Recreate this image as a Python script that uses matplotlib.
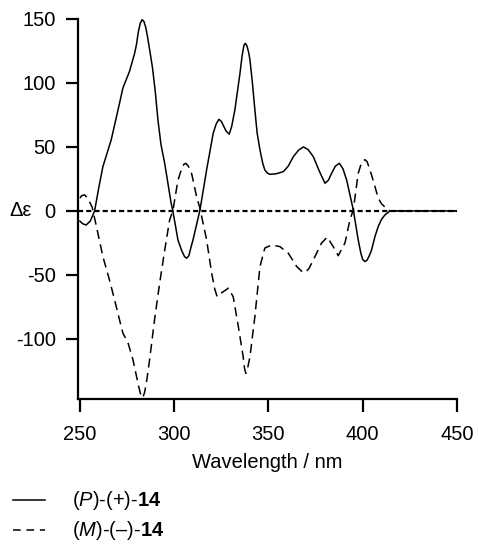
import matplotlib
matplotlib.use("Agg")
import matplotlib.pyplot as plt
from matplotlib.lines import Line2D

plt.rcParams['font.family'] = ['Liberation Sans', 'DejaVu Sans']
plt.rcParams['mathtext.fontset'] = 'custom'
plt.rcParams['mathtext.rm'] = 'Liberation Sans'
plt.rcParams['mathtext.it'] = 'Liberation Sans:italic'
plt.rcParams['mathtext.bf'] = 'Liberation Sans:bold'

# (P)-(+)-14, solid
wl_p = [250, 251.5, 253.3, 255.5, 257.8, 260, 262.2, 266.6, 271, 272.8, 276.3, 279,
        280, 281, 282, 283, 284, 285, 286, 287, 288.5, 290, 291.4, 293, 295, 298.4,
        299.3, 302, 304, 305.5, 306.6, 307.8, 309, 310, 313.7, 317.2, 320.7, 322.3,
        323.7, 325, 326, 327.5, 329.2, 330.5, 332.2, 334.9, 336, 337, 337.8, 338.6,
        339.5, 340.2, 341.5, 342.8, 344, 345.5, 347, 348.1, 349.5, 350.8, 354, 357.9,
        360.5, 363.2, 366, 368.5, 371, 373.8, 377, 380, 381.8, 383.5, 385.5, 387.6,
        389.5, 391.5, 395, 397.6, 399, 400, 401.2, 402.3, 403.5, 404.7, 406.5, 408.2,
        410, 411.8, 414.5, 420, 430, 440, 450]
de_p = [-8, -10, -11, -8, 0, 18, 34.6, 55.5, 84, 96, 109, 123,
        130, 140, 146.5, 149.5, 148, 143, 135, 126, 112, 93, 71, 52, 37, 6,
        0, -22.6, -31, -35.7, -37, -35, -28, -22.6, 0.8, 32, 60.7, 68,
        71.6, 70, 67, 62.5, 60, 66, 79, 107.5, 121, 129.5, 131, 129,
        124, 118, 100, 79, 61, 47.7, 37, 32, 29.5, 28.6, 29, 30.7,
        35, 42.4, 47.5, 50, 48, 42.4, 31, 21.6, 24, 29.4, 35, 37.2,
        33, 24, 0.8, -22.6, -33, -38, -39.6, -38.5, -35, -30.5, -20, -12.3,
        -6.5, -3.1, 0, 0, 0, 0, 0]

# (M)-(-)-14, dashed
wl_m = [250, 251, 252.6, 254.5, 256.5, 258.6, 262.2, 265.7, 268.4, 271, 272.8, 275.5,
        278.1, 280.8, 281.8, 282.5, 283.3, 284.3, 285.5, 287, 289.6, 292.3, 295, 297.6,
        299.3, 302, 304, 305.2, 306.2, 307.5, 309.3, 311.9, 313.7, 314.6, 317.2, 319.9,
        321.5, 322.8, 325.2, 328.7, 331.3, 334, 336.6, 337.3, 338, 338.8, 340.2, 342.8,
        345.5, 348.1, 351.7, 356.1, 360.5, 365, 367.5, 369.4, 371.5, 373.8, 378.2, 381.2,
        384.4, 387, 390.6, 393.2, 395, 397.6, 399, 400, 401.2, 402.3, 403.5, 404.7,
        406.5, 408.2, 410, 411.8, 414.5, 420, 430, 440, 450]
de_m = [10, 12, 12.5, 9, 3, -11, -35.7, -54, -69.5, -85, -95.5, -103,
        -116, -134.6, -141, -145, -146, -142, -132, -116, -85, -56.5, -30.5, -7,
        0, 24, 33, 36.5, 37.2, 35, 29, 11, 2, -4.4, -22.6, -48.7,
        -61, -67, -64, -60.4, -67, -90, -114, -123, -127, -124, -114, -82.6,
        -43.5, -29, -26.6, -27.9, -33, -43.5, -47, -48.2, -45, -38.3, -25, -20.5,
        -28, -35, -25, -7, 0.8, 29.4, 36, 39, 40, 38.5, 33.5, 28,
        19, 10, 5.5, 3, 0, 0, 0, 0, 0]

fig = plt.figure(figsize=(4.78, 5.46), dpi=100)
ax = fig.add_axes([78/478, 147/546, 379/478, 380/546])

ax.axhline(0, color='black', lw=1.6, linestyle=(0, (2.3, 1.4)), zorder=1)
ax.plot(wl_p, de_p, color='black', lw=1.1, solid_joinstyle='round', zorder=3)
ax.plot(wl_m, de_m, color='black', lw=1.1, linestyle=(0, (6.0, 3.6)), zorder=2)

ax.set_xlim(249, 450)
ax.set_ylim(-147, 150)
ax.set_xticks([250, 300, 350, 400, 450])
ax.set_yticks([-100, -50, 0, 50, 100, 150])
ax.set_yticklabels(['-100', '-50', '0', '50', '100', '150'])

for s in ['top', 'right']:
    ax.spines[s].set_visible(False)
for s in ['left', 'bottom']:
    ax.spines[s].set_linewidth(1.6)

ax.tick_params(axis='both', direction='out', length=9, width=1.6, labelsize=14.5)
ax.tick_params(axis='y', pad=7)
ax.tick_params(axis='x', pad=10)

ax.set_xlabel('Wavelength / nm', fontsize=14.5)
ax.xaxis.set_label_coords(0.5, (399 - 453) / 380)
ax.xaxis.label.set_va('top')

ax.set_ylabel('Δε', fontsize=14.5, rotation=0, va='center', ha='center')
ax.yaxis.set_label_coords((21 - 78) / 379, (399 - 211) / 380)

# legend below the chart
fig.add_artist(Line2D([13/478, 45/478], [1 - 500/546, 1 - 500/546], color='black', lw=1.1,
                      transform=fig.transFigure))
fig.add_artist(Line2D([13/478, 45/478], [1 - 530/546, 1 - 530/546], color='black', lw=1.1,
                      linestyle=(0, (5.0, 3.8)), transform=fig.transFigure))
fig.text(72/478, 1 - 500/546, r'($\mathit{P}$)-(+)-$\mathbf{14}$', fontsize=14.5, va='center', ha='left')
fig.text(72/478, 1 - 530/546, r'($\mathit{M}$)-(–)-$\mathbf{14}$', fontsize=14.5, va='center', ha='left')

fig.savefig('out.png', dpi=100)
